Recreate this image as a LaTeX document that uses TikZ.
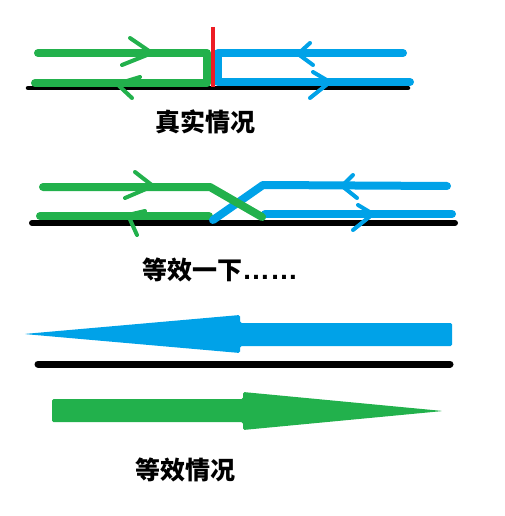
\documentclass[tikz,border=0pt]{standalone}
\usepackage{fontspec}
\newfontfamily\cjk{Noto Sans CJK SC}
\newfontfamily\lib{Liberation Sans}
\definecolor{pgreen}{RGB}{34,177,76}
\definecolor{pblue}{RGB}{0,162,232}
\definecolor{pred}{RGB}{237,28,36}
\begin{document}
\begin{tikzpicture}[x=1pt,y=-1pt,
  gline/.style={draw=pgreen,line width=8pt,line cap=round,line join=round},
  bline/.style={draw=pblue,line width=8pt,line cap=round,line join=round},
  ground/.style={draw=black,line cap=round},
  gchev/.style={draw=pgreen,line width=4pt,line cap=round,line join=round},
  bchev/.style={draw=pblue,line width=4pt,line cap=round,line join=round},
  lbl/.style={anchor=west,inner sep=0pt,font=\cjk\bfseries\fontsize{25pt}{25pt}\selectfont}]
\useasboundingbox (0,0) rectangle (504,516);
% ---- section 1 ----
\coordinate (g1a) at (38,53);
\coordinate (g1b) at (207,53);
\coordinate (g1c) at (207,83);
\coordinate (g1d) at (35,83);
\coordinate (b1a) at (403,53);
\coordinate (b1b) at (218,53);
\coordinate (b1c) at (218,82);
\coordinate (b1d) at (410,82);
\coordinate (k1a) at (28,88);
\coordinate (k1b) at (408,88);
\coordinate (r1a) at (213,27);
\coordinate (r1b) at (213,87);
\draw[ground,line width=4.5pt] (k1a) -- (k1b);
\draw[gline] (g1a) -- (g1b) -- (g1c) -- (g1d);
\draw[bline] (b1a) -- (b1b) -- (b1c) -- (b1d);
\draw[draw=pred,line width=4pt] (r1a) -- (r1b);
\draw[gchev] (130,38) -- (152,53) -- (122,65);
\draw[gchev] (140,77) -- (117,84) -- (132,98);
\draw[bchev] (310,43) -- (298,54) -- (313,65);
\draw[bchev] (313,72) -- (330,82) -- (310,98);
\node[lbl] (t1) at (155,122) {真实情况};
% ---- section 2 ----
\coordinate (k2a) at (32,223);
\coordinate (k2b) at (455,223);
\coordinate (g2a) at (43,187);
\coordinate (g2b) at (210,187);
\coordinate (g2c) at (262,217);
\coordinate (g2d) at (40,216);
\coordinate (g2e) at (209,216);
\coordinate (b2a) at (213,220);
\coordinate (b2b) at (263,185);
\coordinate (b2c) at (447,186);
\coordinate (b2d) at (265,214);
\coordinate (b2e) at (452,214);
\draw[ground,line width=6pt] (k2a) -- (k2b);
\draw[gline] (g2d) -- (g2e);
\draw[bline] (b2d) -- (b2e);
\draw[bline] (b2a) -- (b2b) -- (b2c);
\draw[gline] (g2a) -- (g2b) -- (g2c);
\draw[gchev] (135,172) -- (153,186) -- (125,198);
\draw[gchev] (145,211) -- (128,215) -- (137,235);
\draw[bchev] (353,175) -- (342,186) -- (357,198);
\draw[bchev] (358,205) -- (373,214) -- (353,230);
\node[lbl] (t2) at (142,270) {等效一下{\lib\bfseries\fontsize{28pt}{28pt}\selectfont ……}};
% ---- section 3 ----
\coordinate (k3a) at (38,364);
\coordinate (k3b) at (450,364);
\fill[pblue,rounded corners=1.5pt] (452,323) -- (240,323) -- (240,315) -- (24,334) -- (240,353) -- (240,346) -- (452,346) -- cycle;
\draw[ground,line width=7pt] (k3a) -- (k3b);
\fill[pgreen,rounded corners=1.5pt] (52,399) -- (243,399) -- (243,392) -- (443,411) -- (243,430) -- (243,422) -- (52,422) -- cycle;
\node[lbl] (t3) at (135,470) {等效情况};
\end{tikzpicture}
\end{document}
